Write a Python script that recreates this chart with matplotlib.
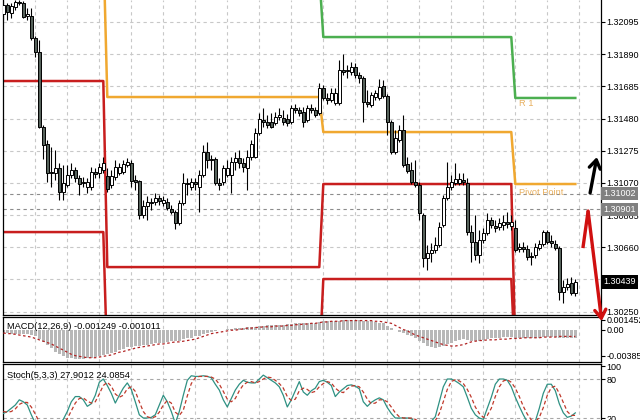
import numpy as np
import matplotlib
matplotlib.use("Agg")
import matplotlib.pyplot as plt

plt.rcParams['font.family'] = ['Liberation Sans', 'DejaVu Sans']

# ---------------- data ----------------
opens = [1.32146, 1.32203, 1.32152, 1.32190, 1.32222, 1.32216, 1.32133, 1.32133, 1.31993, 1.31904,
         1.31426, 1.31318, 1.31139, 1.31133, 1.31165, 1.31012, 1.31057, 1.31120, 1.31152, 1.31101,
         1.31069, 1.31044, 1.31044, 1.31139, 1.31133, 1.31152, 1.31114, 1.31057, 1.31107, 1.31133,
         1.31139, 1.31184, 1.31197, 1.31088, 1.31082, 1.30865, 1.30923, 1.30948, 1.30948, 1.30974,
         1.30942, 1.30948, 1.30904, 1.30885, 1.30815, 1.30942, 1.31069, 1.31044, 1.31076, 1.31044,
         1.31120, 1.31267, 1.31222, 1.31222, 1.31069, 1.31076, 1.31120, 1.31120, 1.31203, 1.31229,
         1.31197, 1.31165, 1.31235, 1.31235, 1.31388, 1.31471, 1.31458, 1.31458, 1.31452, 1.31490,
         1.31483, 1.31477, 1.31458, 1.31547, 1.31534, 1.31522, 1.31471, 1.31547, 1.31534, 1.31515,
         1.31674, 1.31611, 1.31598, 1.31579, 1.31579, 1.31789, 1.31783, 1.31776, 1.31808, 1.31757,
         1.31738, 1.31585, 1.31566, 1.31617, 1.31611, 1.31687, 1.31623, 1.31458, 1.31267, 1.31343,
         1.31407, 1.31190, 1.31152, 1.31076, 1.31057, 1.30865, 1.30592, 1.30623, 1.30643, 1.30674,
         1.30802, 1.30974, 1.31044, 1.31069, 1.31069, 1.31088, 1.31069, 1.30757, 1.30693, 1.30611,
         1.30706, 1.30751, 1.30834, 1.30795, 1.30789, 1.30802, 1.30821, 1.30795, 1.30783, 1.30649,
         1.30662, 1.30649, 1.30604, 1.30611, 1.30655, 1.30681, 1.30757, 1.30700, 1.30681, 1.30655,
         1.30375, 1.30407, 1.30432, 1.30369]
closes = [1.32203, 1.32159, 1.32197, 1.32222, 1.32216, 1.32127, 1.32146, 1.31993, 1.31904, 1.31426,
          1.31311, 1.31133, 1.31133, 1.31165, 1.31012, 1.31069, 1.31120, 1.31152, 1.31101, 1.31063,
          1.31076, 1.31076, 1.31139, 1.31127, 1.31171, 1.31197, 1.31031, 1.31114, 1.31171, 1.31171,
          1.31190, 1.31203, 1.31082, 1.31076, 1.30865, 1.30923, 1.30948, 1.30942, 1.30974, 1.30955,
          1.30961, 1.30910, 1.30885, 1.30815, 1.30942, 1.31069, 1.31063, 1.31076, 1.31063, 1.31120,
          1.31267, 1.31216, 1.31216, 1.31069, 1.31057, 1.31165, 1.31165, 1.31203, 1.31229, 1.31197,
          1.31171, 1.31235, 1.31318, 1.31388, 1.31477, 1.31458, 1.31439, 1.31426, 1.31490, 1.31502,
          1.31458, 1.31452, 1.31547, 1.31534, 1.31515, 1.31458, 1.31547, 1.31534, 1.31502, 1.31674,
          1.31611, 1.31598, 1.31643, 1.31643, 1.31789, 1.31776, 1.31789, 1.31808, 1.31757, 1.31738,
          1.31585, 1.31573, 1.31630, 1.31643, 1.31681, 1.31623, 1.31458, 1.31267, 1.31356, 1.31407,
          1.31184, 1.31146, 1.31076, 1.31057, 1.30878, 1.30592, 1.30623, 1.30643, 1.30674, 1.30789,
          1.30974, 1.31044, 1.31076, 1.31095, 1.31095, 1.31076, 1.30757, 1.30693, 1.30611, 1.30706,
          1.30751, 1.30834, 1.30802, 1.30783, 1.30815, 1.30821, 1.30808, 1.30821, 1.30643, 1.30662,
          1.30649, 1.30598, 1.30598, 1.30662, 1.30681, 1.30757, 1.30693, 1.30687, 1.30655, 1.30375,
          1.30407, 1.30426, 1.30369, 1.30439]
highs = [1.32235, 1.32216, 1.32216, 1.32235, 1.32235, 1.32229, 1.32184, 1.32184, 1.32006, 1.31980,
         1.31439, 1.31343, 1.31299, 1.31280, 1.31197, 1.31184, 1.31184, 1.31197, 1.31171, 1.31120,
         1.31107, 1.31101, 1.31171, 1.31165, 1.31197, 1.31235, 1.31165, 1.31152, 1.31216, 1.31197,
         1.31216, 1.31229, 1.31216, 1.31120, 1.31088, 1.30961, 1.30987, 1.30974, 1.31006, 1.30993,
         1.30987, 1.30974, 1.30929, 1.30898, 1.30961, 1.31133, 1.31101, 1.31101, 1.31101, 1.31152,
         1.31311, 1.31330, 1.31248, 1.31235, 1.31101, 1.31184, 1.31216, 1.31235, 1.31267, 1.31280,
         1.31229, 1.31280, 1.31343, 1.31420, 1.31515, 1.31547, 1.31502, 1.31515, 1.31522, 1.31547,
         1.31534, 1.31509, 1.31566, 1.31573, 1.31553, 1.31553, 1.31566, 1.31573, 1.31553, 1.31706,
         1.31694, 1.31643, 1.31674, 1.31674, 1.31853, 1.31891, 1.31821, 1.31840, 1.31834, 1.31776,
         1.31751, 1.31662, 1.31649, 1.31662, 1.31732, 1.31725, 1.31636, 1.31471, 1.31407, 1.31439,
         1.31502, 1.31235, 1.31203, 1.31216, 1.31076, 1.30878, 1.30674, 1.30687, 1.30725, 1.30821,
         1.30993, 1.31203, 1.31120, 1.31197, 1.31133, 1.31133, 1.31101, 1.30802, 1.30865, 1.30770,
         1.30783, 1.30878, 1.30853, 1.30834, 1.30846, 1.30865, 1.30885, 1.30865, 1.30834, 1.30687,
         1.30693, 1.30674, 1.30630, 1.30687, 1.30706, 1.30770, 1.30770, 1.30738, 1.30706, 1.30668,
         1.30452, 1.30464, 1.30471, 1.30458]
lows = [1.32108, 1.32108, 1.32120, 1.32171, 1.32203, 1.32120, 1.32108, 1.31980, 1.31872, 1.31420,
        1.31222, 1.31076, 1.31044, 1.31088, 1.30961, 1.30961, 1.31044, 1.31101, 1.31076, 1.30993,
        1.31044, 1.31006, 1.31025, 1.31101, 1.31101, 1.31133, 1.31012, 1.31037, 1.31088, 1.31120,
        1.31127, 1.31171, 1.31044, 1.31025, 1.30840, 1.30846, 1.30834, 1.30898, 1.30929, 1.30929,
        1.30923, 1.30898, 1.30872, 1.30776, 1.30802, 1.30929, 1.30993, 1.31025, 1.31025, 1.30885,
        1.31107, 1.31165, 1.31152, 1.31057, 1.31025, 1.31057, 1.31107, 1.31006, 1.31152, 1.31165,
        1.31139, 1.31025, 1.31216, 1.31229, 1.31375, 1.31426, 1.31420, 1.31420, 1.31439, 1.31471,
        1.31439, 1.31432, 1.31445, 1.31515, 1.31496, 1.31426, 1.31458, 1.31515, 1.31490, 1.31502,
        1.31598, 1.31573, 1.31585, 1.31566, 1.31566, 1.31757, 1.31738, 1.31757, 1.31738, 1.31706,
        1.31458, 1.31553, 1.31553, 1.31598, 1.31598, 1.31611, 1.31375, 1.31254, 1.31254, 1.31330,
        1.31171, 1.31133, 1.31063, 1.31044, 1.30834, 1.30534, 1.30515, 1.30566, 1.30623, 1.30662,
        1.30789, 1.30961, 1.31025, 1.31057, 1.31057, 1.31057, 1.30738, 1.30566, 1.30579, 1.30560,
        1.30687, 1.30738, 1.30783, 1.30757, 1.30770, 1.30770, 1.30783, 1.30770, 1.30630, 1.30630,
        1.30630, 1.30579, 1.30547, 1.30592, 1.30643, 1.30668, 1.30681, 1.30662, 1.30643, 1.30324,
        1.30305, 1.30388, 1.30356, 1.30350]

# daily pivot levels (values beyond the visible range are estimates)
day_lengths = [26, 54, 48, 16]
r1_levels = [1.33000, 1.32400, 1.31999, 1.31611]
pp_levels = [1.32600, 1.31617, 1.31394, 1.31063]
s1_levels = [1.31719, 1.30534, 1.31063, 1.30000]
s2_levels = [1.30757, 1.29900, 1.30458, 1.29900]

price_ticks = [1.32095, 1.31890, 1.31685, 1.31480, 1.31275, 1.31070,
               1.30865, 1.30660, 1.30455, 1.30250]
hlines = [1.31002, 1.30901]
last_price = 1.30439

macd_main = [-0.0005, -0.0005, -0.0006, -0.0006, -0.0006, -0.0007, -0.0007, -0.0008,
             -0.0010, -0.0014, -0.0018, -0.0022,
             -0.0027, -0.0032, -0.0036, -0.0039, -0.0041,
             -0.0042, -0.0043, -0.0043, -0.0043, -0.0042, -0.0041,
             -0.0040, -0.0039, -0.0037, -0.0036, -0.0034,
             -0.0032, -0.0030, -0.0028, -0.0026, -0.0025, -0.0024,
             -0.0024, -0.0023, -0.0022, -0.0021, -0.0020, -0.0019, -0.0019,
             -0.0018, -0.0017, -0.0017, -0.0016, -0.0014, -0.0013, -0.0012,
             -0.0010, -0.0009, -0.0007, -0.0005, -0.0003, -0.0002,
             -0.0001, 0.0000, 0.0001, 0.0001, 0.0002, 0.0002, 0.0002,
             0.0003, 0.0003, 0.0004, 0.0005, 0.0005, 0.0006, 0.0006, 0.0006,
             0.0007, 0.0007, 0.0008, 0.0008, 0.0009, 0.0009, 0.0010, 0.0010, 0.0010, 0.0010,
             0.0011, 0.0012, 0.0012, 0.0012, 0.0013, 0.0013, 0.0014, 0.0014, 0.0014, 0.0014, 0.0014, 0.0013,
             0.0012, 0.0012, 0.0011, 0.0010, 0.0009, 0.0005,
             0.0002, -0.0001, -0.0003, -0.0005, -0.0008,
             -0.0010, -0.0013, -0.0016, -0.0020, -0.0024, -0.0026, -0.0027,
             -0.0026, -0.0024, -0.0021, -0.0019,
             -0.0017, -0.0015, -0.0014, -0.0015, -0.0016, -0.0017,
             -0.0016, -0.0015, -0.0014, -0.0013, -0.0012, -0.0012, -0.0011, -0.0011,
             -0.0011, -0.0012, -0.0012, -0.0013, -0.0013, -0.0013, -0.0012, -0.0012,
             -0.0011, -0.0011, -0.0011, -0.0011,
             -0.0012, -0.0013, -0.0013, -0.0012, -0.00125]
macd_signal = [-0.0005, -0.0006, -0.0006, -0.0007, -0.0008, -0.0009, -0.0010, -0.0011,
               -0.0013, -0.0015, -0.0017, -0.0019,
               -0.0021, -0.0024, -0.0027, -0.0030, -0.0033,
               -0.0036, -0.0038, -0.0039, -0.0040, -0.0041, -0.0041,
               -0.0041, -0.0040, -0.0039, -0.0038, -0.0037,
               -0.0035, -0.0033, -0.0032, -0.0030, -0.0029, -0.0027,
               -0.0026, -0.0025, -0.0024, -0.0023, -0.0022, -0.0021, -0.0021,
               -0.0020, -0.0019, -0.0018, -0.0018, -0.0017, -0.0016, -0.0015,
               -0.0014, -0.0012, -0.0010, -0.0008, -0.0006, -0.0005,
               -0.0004, -0.0003, -0.0002, -0.0001, -0.0001, 0.0000, 0.0001,
               0.0002, 0.0002, 0.0003, 0.0003, 0.0004, 0.0004, 0.0004, 0.0005,
               0.0005, 0.0005, 0.0006, 0.0006, 0.0007, 0.0007, 0.0008, 0.0008, 0.0009, 0.0009,
               0.0010, 0.0011, 0.0011, 0.0012, 0.0012, 0.0012, 0.0013, 0.0013, 0.0013, 0.0013, 0.0013, 0.0013,
               0.0013, 0.0013, 0.0012, 0.0012, 0.0011, 0.0010,
               0.0009, 0.0006, 0.0003, 0.0000, -0.0002,
               -0.0005, -0.0008, -0.0010, -0.0012, -0.0014, -0.0016, -0.0018,
               -0.0020, -0.0022, -0.0023, -0.0024,
               -0.0024, -0.0023, -0.0022, -0.0020, -0.0018, -0.0017,
               -0.0016, -0.0016, -0.0015, -0.0015, -0.0015, -0.0014, -0.0014, -0.0014,
               -0.0013, -0.0013, -0.0013, -0.0012, -0.0012, -0.0012, -0.0012, -0.0012,
               -0.0011, -0.0011, -0.0011, -0.0011,
               -0.0010, -0.0010, -0.0010, -0.0010, -0.00101]
macd_ticks = [0.001452, 0.0, -0.00385]
macd_ticklabels = ['0.001452', '0.00', '-0.00385']

stoch_k = [27, 30, 35, 40, 48, 45, 40, 25, 12, 5,
           3, 3, 4, 6, 10, 18, 30, 45, 53, 53,
           48, 38, 42, 55, 75, 80, 70, 58, 43, 55,
           66, 74, 64, 45, 25, 20, 20, 21, 25, 40,
           55, 45, 30, 12, 30, 55, 78, 85, 84, 84,
           85, 84, 82, 72, 63, 48, 37, 50, 63, 72,
           78, 75, 74, 74, 80, 86, 82, 78, 74, 68,
           55, 37, 48, 62, 76, 60, 55, 62, 66, 76,
           78, 75, 70, 53, 60, 65, 70, 71, 69, 65,
           45, 38, 44, 48, 51, 48, 36, 27, 20, 20,
           20, 20, 19, 14, 10, 8, 10, 15, 22, 45,
           68, 80, 80, 77, 73, 68, 52, 35, 25, 20,
           18, 35, 52, 72, 80, 80, 78, 68, 52, 38,
           25, 14, 12, 15, 35, 58, 72, 72, 62, 42,
           28, 21, 23, 27.9]
stoch_d = [30, 29, 30, 34, 41, 44, 44, 37, 26, 14,
           7, 4, 3, 4, 7, 11, 19, 31, 43, 50,
           51, 46, 43, 45, 57, 70, 75, 69, 57, 52,
           55, 65, 68, 61, 45, 30, 22, 20, 22, 29,
           40, 47, 43, 29, 24, 32, 54, 73, 82, 84,
           84, 84, 83, 80, 72, 61, 49, 45, 50, 62,
           71, 75, 76, 74, 76, 80, 83, 82, 78, 73,
           66, 53, 47, 49, 62, 66, 64, 59, 61, 68,
           73, 76, 74, 66, 61, 59, 65, 69, 70, 68,
           60, 49, 42, 43, 48, 48, 45, 37, 28, 22,
           20, 20, 20, 18, 14, 11, 9, 11, 16, 27,
           45, 64, 76, 79, 77, 73, 64, 52, 37, 27,
           21, 24, 35, 53, 68, 77, 79, 75, 66, 53,
           38, 26, 17, 14, 21, 36, 55, 67, 69, 58,
           44, 30, 24, 24.1]
stoch_ticks = [100, 80, 20]
stoch_levels = [80, 20]

# hand-drawn arrows (bar index, price)
black_arrow = [(146.7, 1.31006), (148.4, 1.31235)]
red_arrow = [(144.9, 1.30655), (146.2, 1.30891), (149.6, 1.30190)]

# ---------------- figure ----------------
W, H = 640, 420
fig = plt.figure(figsize=(6.4, 4.2), dpi=100)

def rect(x0, y0, x1, y1):
    return [x0 / W, 1 - y1 / H, (x1 - x0) / W, (y1 - y0) / H]

ax = fig.add_axes(rect(2.5, 0, 600.5, 314.5))
axm = fig.add_axes(rect(2.5, 317, 600.5, 361.5))
axs = fig.add_axes(rect(2.5, 364, 600.5, 432))
ax.set_zorder(5)

n = len(closes)
idx = np.arange(n)
xlim = (-0.2, 149.3)
vgrid = np.arange(8, 150, 8)
grid_kw = dict(color='#c8c8c8', linestyle=(0, (3, 3)), linewidth=0.8)
FS = 6.5

for a in (ax, axm, axs):
    a.set_xlim(*xlim)
    a.set_xticks(vgrid)
    a.set_xticklabels([])
    a.tick_params(axis='x', length=0)
    a.yaxis.tick_right()
    a.tick_params(axis='y', direction='out', length=3, width=0.8, pad=1.5,
                  labelsize=FS, right=True, left=False, colors='black')
    a.grid(True, axis='x', **grid_kw)
    for s in a.spines.values():
        s.set_linewidth(0.9)
        s.set_color('black')
    a.set_axisbelow(True)
ax.spines['top'].set_visible(False)

# ---- main price panel ----
ax.set_ylim(1.30232, 1.32235)
ax.set_yticks(price_ticks)
ax.set_yticklabels([f'{t:.5f}' for t in price_ticks])
ax.grid(True, axis='y', **grid_kw)

for v in hlines:
    ax.axhline(v, color='#8c8c8c', linestyle=(0, (3, 3)), linewidth=0.8, zorder=1.5)

def steps(levels):
    return np.repeat(levels, day_lengths)

ax.plot(idx, steps(r1_levels), color='#4caf50', lw=1.8, zorder=2)
ax.plot(idx, steps(pp_levels), color='#f0a830', lw=1.8, zorder=2)
ax.plot(idx, steps(s1_levels), color='#c81e1e', lw=1.8, zorder=2)
ax.plot(idx, steps(s2_levels), color='#c81e1e', lw=1.8, zorder=2)

o = np.array(opens); c = np.array(closes)
h = np.array(highs); l = np.array(lows)
up = c >= o
ax.vlines(idx, l, h, color='black', lw=0.8, zorder=3)
ax.bar(idx[up], np.maximum((c - o)[up], 0.00002), bottom=o[up], width=0.75,
       color='white', edgecolor='black', linewidth=0.7, zorder=4)
ax.bar(idx[~up], (o - c)[~up], bottom=c[~up], width=0.75,
       color='#56625b', edgecolor='black', linewidth=0.7, zorder=4)

ax.text(128.9, 1.31573, 'R 1', color='#e8b060', fontsize=6.7, va='center', ha='left', zorder=6)
ax.text(128.9, 1.31012, 'Pivot Point', color='#e8b060', fontsize=6.7, va='center', ha='left', zorder=6)

ytr = ax.get_yaxis_transform()
for val, fc in [(hlines[0], '#808080'), (hlines[1], '#808080'), (last_price, 'black')]:
    ax.text(1.004, val, f'{val:.5f}', transform=ytr, ha='left', va='center',
            fontsize=FS, color='white', clip_on=False, zorder=10,
            bbox=dict(boxstyle='square,pad=0.25', fc=fc, ec='none'))

# arrows
ax.annotate('', xy=black_arrow[1], xytext=black_arrow[0], annotation_clip=False,
            arrowprops=dict(arrowstyle='->,head_length=0.6,head_width=0.4',
                            color='black', lw=2.4, shrinkA=0, shrinkB=0), zorder=12)
ax.plot([red_arrow[0][0], red_arrow[1][0]], [red_arrow[0][1], red_arrow[1][1]],
        color='#d01010', lw=2.4, clip_on=False, zorder=12, solid_capstyle='butt')
ax.annotate('', xy=red_arrow[2], xytext=red_arrow[1], annotation_clip=False,
            arrowprops=dict(arrowstyle='->,head_length=0.6,head_width=0.4',
                            color='#d01010', lw=2.4, shrinkA=0, shrinkB=0), zorder=12)

# ---- MACD panel ----
axm.set_ylim(-0.00465, 0.00182)
axm.bar(idx, macd_main, width=0.62, color='#b8b8b8', zorder=2)
axm.plot(idx, macd_signal, color='#b22222', lw=0.9, linestyle=(0, (2, 2)), zorder=3)
axm.set_yticks(macd_ticks)
axm.set_yticklabels(macd_ticklabels)
axm.text(0.0075, 0.79, 'MACD(12,26,9) -0.001249 -0.001011', transform=axm.transAxes,
         fontsize=6.7, va='center', ha='left', color='black', zorder=5)

# ---- Stochastic panel ----
axs.set_ylim(-1.5, 103.1)
for lv in stoch_levels:
    axs.axhline(lv, color='#a8a8a8', linestyle=(0, (3, 3)), linewidth=0.8, zorder=1)
axs.plot(idx, stoch_k, color='#2f9183', lw=0.9, zorder=3)
axs.plot(idx, stoch_d, color='#c0392b', lw=0.9, linestyle=(0, (3, 2)), zorder=3)
axs.set_yticks(stoch_ticks)
axs.set_yticklabels([str(t) for t in stoch_ticks])
axs.text(0.0075, 0.838, 'Stoch(5,3,3) 27.9012 24.0854', transform=axs.transAxes,
         fontsize=6.7, va='center', ha='left', color='black', zorder=5)

fig.savefig('out.png', dpi=100)
